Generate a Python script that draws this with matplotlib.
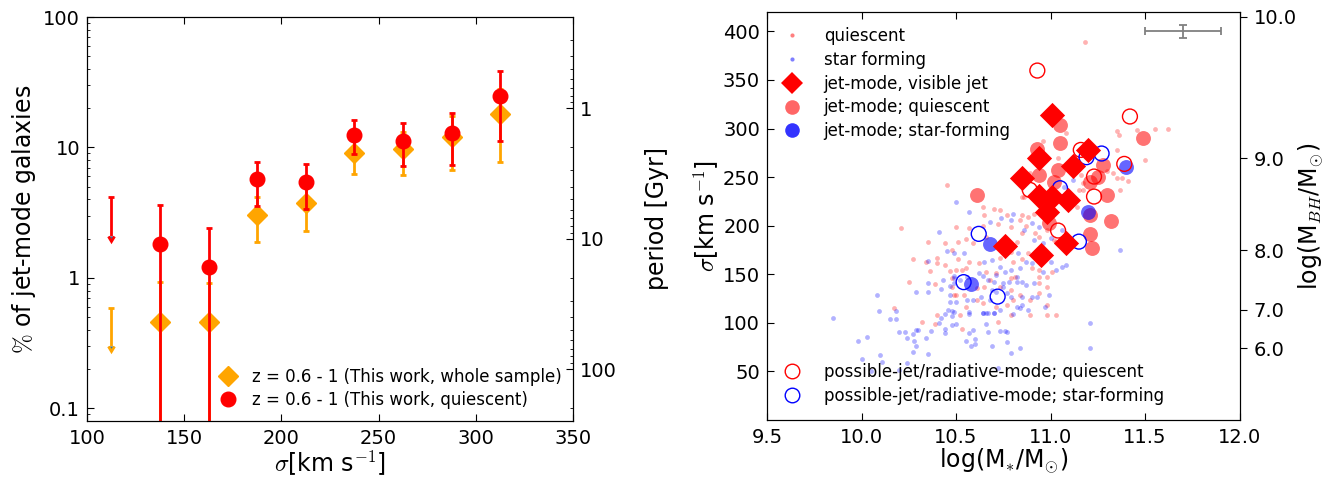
import matplotlib
matplotlib.use('Agg')
import matplotlib.pyplot as plt
import numpy as np
from matplotlib.lines import Line2D
from matplotlib.ticker import FuncFormatter, LogLocator, NullFormatter

# ---------------------------------------------------------------------------
# Left panel: fraction of jet-mode galaxies per velocity-dispersion bin
# ---------------------------------------------------------------------------
sigma_bins = [137.5, 162.5, 187.5, 212.5, 237.5, 262.5, 287.5, 312.5]

# whole sample
frac_all = [0.46, 0.46, 3.05, 3.75, 9.0, 9.8, 12.1, 17.9]
frac_all_hi = [0.93, 0.92, 4.2, 5.1, 11.7, 13.2, 17.3, 28.0]
frac_all_lo = [0.001, 0.001, 1.9, 2.3, 6.3, 6.2, 6.7, 7.7]

# quiescent only
frac_q = [1.82, 1.21, 5.7, 5.4, 12.4, 11.3, 13.0, 25.0]
frac_q_hi = [3.6, 2.4, 7.8, 7.5, 16.1, 15.3, 18.5, 38.7]
frac_q_lo = [0.001, 0.001, 3.55, 3.4, 8.9, 7.2, 7.3, 11.3]

# upper limits in the first bin (top of bar, tip of arrow)
lim_sigma = [112.5]
lim_all_top = [0.59]
lim_all_tip = [0.30]
lim_q_top = [4.2]
lim_q_tip = [2.1]

# ---------------------------------------------------------------------------
# Right panel: sigma vs stellar mass
# ---------------------------------------------------------------------------
# visible jets
jet_m = [11.01, 11.20, 10.94, 11.12, 10.85, 10.94, 11.01, 11.09, 10.98, 10.76, 10.95, 11.08]
jet_s = [314, 278, 269.5, 261.6, 249, 230.7, 230, 226.6, 214.5, 179.2, 170, 182]

# jet-mode, quiescent
jq_m = [11.05, 11.05, 10.93, 11.04, 10.94, 11.02, 11.21, 11.25, 11.28, 11.30, 10.61, 11.21,
        11.21, 11.22, 11.32, 11.49, 10.99]
jq_s = [303.8, 285, 278.8, 257.5, 252.3, 245.4, 245.4, 250.6, 262.6, 231.7, 231.7, 211.1,
        191.6, 176.8, 205, 290, 202.6]

# jet-mode, star-forming
jsf_m = [10.68, 10.58, 11.20, 11.40]
jsf_s = [181.3, 139.5, 214.5, 260]

# possible jet / radiative mode
pq_m = [10.93, 11.42, 11.16, 11.39, 11.23, 11.23, 10.89, 11.04]
pq_s = [359.7, 312.4, 278, 263.6, 250.6, 230, 236.9, 195]
psf_m = [10.62, 10.54, 10.72, 11.05, 11.15, 11.19, 11.27]
psf_s = [191.6, 141.9, 127, 238.6, 183.6, 270.5, 274.3]

# parent sample, quiescent
q_m = [10.21, 10.35, 10.44, 10.27, 10.34, 10.40, 10.40, 10.44, 10.36, 10.47, 10.48, 10.25,
       10.39, 10.49, 10.17, 10.40, 10.32, 10.39, 10.53, 10.72, 10.89, 10.98,
       10.64, 10.70, 10.73, 10.65, 10.77, 10.85, 10.88, 10.91, 10.50, 10.57, 10.64, 10.72,
       10.79, 10.84, 10.87, 10.51, 10.55, 10.48, 10.59, 10.66, 10.82, 10.85, 10.92, 10.94,
       10.98, 10.79, 10.85, 10.88, 10.91, 11.02, 11.03, 10.51, 10.57, 10.62, 10.73, 10.80,
       10.90, 10.94, 10.50, 10.53, 10.55, 10.66, 10.71, 10.79, 10.81, 10.94, 10.98, 11.01,
       10.48, 10.50, 10.54, 10.61, 10.65, 10.68, 10.73, 10.79, 10.84, 10.94, 10.98, 10.55,
       10.61, 10.64, 10.71, 10.77, 10.80, 10.89, 10.94, 10.98, 11.03, 10.79, 10.52,
       11.08, 10.96, 11.04, 11.35, 11.36, 11.46, 11.35, 11.30, 11.33, 11.35, 11.38, 11.41,
       11.37, 11.16, 11.17, 10.86, 10.85, 11.15, 11.17, 11.14, 10.89, 10.88,
       11.55, 11.62, 11.50, 10.45, 11.18]
q_s = [197.7, 183.6, 182.3, 166.1, 162.4, 166.8, 161.4, 159.6, 153.8, 153.8, 146, 142.1,
       140.4, 128.4, 115, 107.8, 101.2, 98.9, 93.7, 101.3, 108.1, 108.5,
       219.0, 217.0, 216.3, 211.2, 211.2, 211.2, 209.4, 212.2, 199.1, 197.4, 199.8, 201.9,
       199.1, 206.0, 199.8, 183.7, 186.1, 175.1, 182.0, 188.1, 183.7, 192.3, 192.3, 188.8,
       195.7, 173.4, 165.5, 171.7, 170.0, 185.4, 183.7, 165.5, 163.1, 161.4, 166.5, 163.1,
       156.2, 154.5, 154.5, 154.5, 156.2, 152.8, 151.1, 145.9, 147.6, 147.6, 147.6, 152.8,
       137.3, 128.8, 128.8, 135.6, 137.3, 144.2, 136.7, 133.9, 128.8, 140.8, 137.3, 116.7,
       123.6, 120.2, 116.7, 118.5, 123.6, 123.6, 130.5, 118.5, 108.2, 108.2, 108.2,
       295.3, 286.7, 269.5, 297.0, 293.6, 298.7, 278.1, 255.8, 254.1, 248.9, 248.9, 245.5,
       236.9, 252.4, 243.8, 230.0, 229.4, 236.9, 236.9, 219.7, 254.1, 247.2,
       299.7, 299.7, 267.8, 242, 389.6]

# parent sample, star forming
sf_m = [10.41, 10.45, 10.35, 10.43, 10.49, 10.35, 10.47, 10.29, 10.35, 10.42, 10.47, 10.08,
        10.47, 10.09, 10.18, 10.46, 10.44, 10.48, 9.85, 10.18, 10.15, 10.42,
        10.20, 10.23, 10.24, 10.27, 10.29, 10.30, 10.28, 10.29, 10.34, 10.37, 10.41, 10.44,
        10.44, 10.48, 9.98, 10.03, 10.27, 10.35, 10.10, 10.11, 10.00, 10.24, 10.20, 10.05,
        10.50, 10.57, 10.64, 10.66, 10.70, 10.80, 10.48, 10.66, 10.59, 10.57, 10.67, 10.73,
        10.76, 10.77, 10.60, 10.55, 10.77, 10.60, 10.58, 10.69, 10.84, 10.79, 11.21, 11.21,
        10.72,
        10.50, 10.57, 10.68, 10.74, 10.80, 10.79, 10.90, 10.94, 10.86, 10.91, 10.96, 11.00,
        11.06, 10.54, 10.49, 10.65, 10.69, 10.73, 10.71, 10.76, 10.79, 10.82, 10.83, 10.84,
        10.87, 10.90, 10.96, 11.00, 11.03, 11.06, 11.08, 10.64, 10.67, 10.70, 10.75, 10.78,
        10.82, 10.85, 10.87, 10.91, 10.49, 10.49, 10.52, 10.56, 10.62, 10.69, 10.71, 10.75,
        10.77, 10.79, 10.85, 10.90, 10.93, 10.99, 10.50, 10.56, 10.59, 10.63, 10.68, 10.82,
        10.84, 10.85, 10.88, 10.73, 10.67, 10.57, 10.49, 10.64, 10.70, 10.97, 11.37,
        11.12, 11.07]
sf_s = [193.3, 174.1, 163.4, 144.5, 148.6, 141.4, 138, 131.8, 131.8, 134.6, 128.7, 128.7,
        121.8, 112.6, 112, 113.6, 109.2, 112, 104.7, 104.3, 103.7, 104.7,
        90.6, 90.6, 84.8, 88.6, 92.7, 92.7, 81.4, 76.2, 84.8, 91.4, 99.6, 93.7,
        89.3, 97.5, 81.7, 85.2, 70.3, 68.3, 66.9, 60, 63.1, 58.4, 51.5, 50.5,
        98.6, 108.9, 110.5, 110.5, 109.9, 108.9, 107.1, 98.6, 92.7, 89.9, 90.3, 92,
        92, 90.3, 83.4, 81.4, 80.6, 78, 76.2, 76.2, 73.8, 69.3, 99.6, 73.8,
        53.2,
        224.9, 214.6, 204.3, 207.7, 212.2, 206.0, 202.6, 199.1, 195.7, 185.4, 182.0, 187.1,
        195.7, 171.7, 171.7, 163.1, 164.8, 157.9, 149.4, 152.8, 154.5, 147.6, 171.7, 156.2,
        163.1, 161.4, 152.8, 163.1, 154.5, 157.9, 159.7, 148.3, 144.2, 142.5, 140.8, 142.5,
        142.5, 142.5, 139.1, 140.8, 145.9, 140.8, 144.2, 147.6, 151.1, 133.9, 132.2, 137.3,
        130.5, 127.0, 127.0, 127.0, 127.0, 128.8, 121.9, 123.6, 123.6, 127.0, 123.6, 116.7,
        115.0, 118.5, 113.3, 113.3, 109.9, 111.6, 111.6, 109.9, 109.9, 116.7, 175.1,
        247.2, 240.3]

# typical uncertainty
err_m, err_s = [11.7], [400]
err_dm, err_ds = [0.2], [6.5]

# M-sigma relation used for the right-hand axis
mbh_ticks = [6.0, 7.0, 8.0, 9.0, 10.0]

plt.rcParams['mathtext.fontset'] = 'cm'
plt.rcParams['font.family'] = 'DejaVu Sans'
plt.rcParams['xtick.direction'] = 'in'
plt.rcParams['ytick.direction'] = 'in'
plt.rcParams['xtick.major.size'] = 5
plt.rcParams['ytick.major.size'] = 5
plt.rcParams['xtick.minor.size'] = 2.5
plt.rcParams['ytick.minor.size'] = 2.5
plt.rcParams['xtick.major.pad'] = 6
plt.rcParams['ytick.major.pad'] = 5

fig = plt.figure(figsize=(13.31, 4.79), dpi=100)

# ------------------------------- left panel --------------------------------
ax1 = fig.add_axes([0.0654, 0.1211, 0.3651, 0.8434])
ax1.errorbar(sigma_bins, frac_all,
             yerr=[np.array(frac_all) - np.array(frac_all_lo), np.array(frac_all_hi) - np.array(frac_all)],
             fmt='none', ecolor='orange', elinewidth=2, capsize=2.5, capthick=2, zorder=2)
ax1.plot(sigma_bins, frac_all, 'D', color='orange', mec='orange', ms=10.5, zorder=3,
         label='z = 0.6 - 1 (This work, whole sample)')
ax1.errorbar(lim_sigma, lim_all_top, yerr=np.array(lim_all_top) - np.array(lim_all_tip), uplims=True,
             fmt='none', ecolor='orange', elinewidth=2, capsize=2.5, capthick=2, zorder=2)

ax1.errorbar(sigma_bins, frac_q,
             yerr=[np.array(frac_q) - np.array(frac_q_lo), np.array(frac_q_hi) - np.array(frac_q)],
             fmt='none', ecolor='red', elinewidth=2, capsize=2.5, capthick=2, zorder=4)
ax1.plot(sigma_bins, frac_q, 'o', color='red', mec='red', ms=10.5, zorder=5,
         label='z = 0.6 - 1 (This work, quiescent)')
ax1.errorbar(lim_sigma, lim_q_top, yerr=np.array(lim_q_top) - np.array(lim_q_tip), uplims=True,
             fmt='none', ecolor='red', elinewidth=2, capsize=2.5, capthick=2, zorder=4)

ax1.set_yscale('log')
ax1.set_xlim(100, 350)
ax1.set_ylim(0.08, 100)
ax1.yaxis.set_major_formatter(FuncFormatter(lambda v, p: '%g' % v))
ax1.yaxis.set_minor_formatter(NullFormatter())
ax1.tick_params(axis='both', which='both', top=True, right=False, labelsize=14)
ax1.set_xlabel(r'$\sigma$[km s$^{-1}$]', fontsize=17, labelpad=0)
ax1.set_ylabel(r'$\%$ of jet-mode galaxies', fontsize=17, labelpad=4)
ax1.legend(loc='lower right', numpoints=1, frameon=False, fontsize=12,
           handlelength=1.2, handletextpad=0.8, labelspacing=0.3, borderaxespad=0.3)

# period axis on the right (period = 20 / percentage)
ax1b = ax1.twinx()
ax1b.set_yscale('log')
ax1b.set_ylim(20.0 / 0.08, 20.0 / 100)
ax1b.yaxis.set_major_locator(LogLocator(base=10))
ax1b.yaxis.set_major_formatter(FuncFormatter(lambda v, p: '%g' % v))
ax1b.yaxis.set_minor_formatter(NullFormatter())
ax1b.tick_params(axis='y', which='both', labelsize=14)
ax1b.set_ylabel('period [Gyr]', fontsize=17, labelpad=20)

# ------------------------------- right panel -------------------------------
ax2 = fig.add_axes([0.5763, 0.1232, 0.355, 0.8518])
ax2.scatter(q_m, q_s, s=12, color='red', alpha=0.3, lw=0, zorder=1)
ax2.scatter(sf_m, sf_s, s=12, color='blue', alpha=0.3, lw=0, zorder=1)
ax2.scatter(jq_m, jq_s, s=115, color='red', alpha=0.55, lw=0, zorder=2)
ax2.scatter(jsf_m, jsf_s, s=115, color='blue', alpha=0.6, lw=0, zorder=2)
ax2.scatter(pq_m, pq_s, s=115, facecolors='none', edgecolors='red', lw=1, zorder=3)
ax2.scatter(psf_m, psf_s, s=115, facecolors='none', edgecolors='blue', lw=1, zorder=3)
ax2.scatter(jet_m, jet_s, s=165, marker='D', color='red', lw=0, zorder=4)
ax2.errorbar(err_m, err_s, xerr=err_dm, yerr=err_ds, fmt='none', ecolor='grey',
             elinewidth=1.3, capsize=3, capthick=1.3)

ax2.set_xlim(9.5, 12.0)
ax2.set_ylim(0, 420)
ax2.set_xticks([9.5, 10.0, 10.5, 11.0, 11.5, 12.0])
ax2.xaxis.set_major_formatter(FuncFormatter(lambda v, p: '%.1f' % v))
ax2.set_yticks([50, 100, 150, 200, 250, 300, 350, 400])
ax2.tick_params(axis='both', which='both', top=True, right=False, labelsize=14)
ax2.set_xlabel(r'log(M$_{*}$/M$_{\odot}$)', fontsize=17, labelpad=0)
ax2.set_ylabel(r'$\sigma$[km s$^{-1}$]', fontsize=17, labelpad=2)

h_top = [Line2D([], [], ls='none', marker='o', ms=3, color='red', alpha=0.5, mew=0),
         Line2D([], [], ls='none', marker='o', ms=3, color='blue', alpha=0.5, mew=0),
         Line2D([], [], ls='none', marker='D', ms=11, color='red', mew=0),
         Line2D([], [], ls='none', marker='o', ms=10.5, color='red', alpha=0.6, mew=0),
         Line2D([], [], ls='none', marker='o', ms=10.5, color='blue', alpha=0.8, mew=0)]
leg1 = ax2.legend(h_top, ['quiescent', 'star forming', 'jet-mode, visible jet',
                          'jet-mode; quiescent', 'jet-mode; star-forming'],
                  loc='upper left', frameon=False, fontsize=12, numpoints=1,
                  handlelength=1.2, handletextpad=1.3, labelspacing=0.35,
                  borderaxespad=0.4, borderpad=0.5)
ax2.add_artist(leg1)
h_bot = [Line2D([], [], ls='none', marker='o', ms=10.5, mfc='none', mec='red', mew=1),
         Line2D([], [], ls='none', marker='o', ms=10.5, mfc='none', mec='blue', mew=1)]
ax2.legend(h_bot, ['possible-jet/radiative-mode; quiescent',
                   'possible-jet/radiative-mode; star-forming'],
           loc='lower left', frameon=False, fontsize=12, numpoints=1,
           handlelength=1.2, handletextpad=1.3, labelspacing=0.35,
           borderaxespad=0.4, borderpad=0.5)

# black-hole mass axis: log M_BH = 8.31 + 5.33 log(sigma/200)
ax2b = ax2.twinx()
ax2b.set_ylim(ax2.get_ylim())
ax2b.set_yticks([200.0 * 10 ** ((m - 8.31) / 5.33) for m in mbh_ticks])
ax2b.set_yticklabels(['%.1f' % m for m in mbh_ticks])
ax2b.tick_params(axis='y', direction='out', labelsize=14)
ax2b.set_ylabel(r'log(M$_{BH}$/M$_{\odot}$)', fontsize=17, labelpad=0)

plt.savefig('out.png', dpi=100)
